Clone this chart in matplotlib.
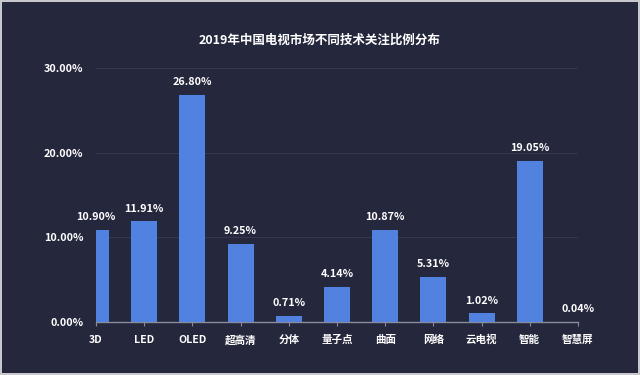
import matplotlib.pyplot as plt

plt.rcParams['font.family'] = ['Noto Sans CJK SC', 'DejaVu Sans']

categories = ['3D', 'LED', 'OLED', '超高清', '分体', '量子点', '曲面', '网络', '云电视', '智能', '智慧屏']
shares = [10.90, 11.91, 26.80, 9.25, 0.71, 4.14, 10.87, 5.31, 1.02, 19.05, 0.04]
yticks = [0, 10, 20, 30]

bg = '#25273d'
bar_color = '#5282e0'

fig = plt.figure(figsize=(6.4, 3.75), dpi=100, facecolor=bg,
                 edgecolor='#c8c8cc', linewidth=1.5)
ax = fig.add_axes([0.15, 0.141, 0.753, 0.678])
ax.set_facecolor(bg)

x = list(range(len(categories)))
ax.bar(x, shares, width=0.54, color=bar_color, zorder=3)

for xi, v in zip(x, shares):
    ax.text(xi, v + 0.9, f'{v:.2f}%', ha='center', va='bottom',
            color='white', fontsize=7.8, fontweight='bold')

ax.set_xlim(0, len(categories) - 1)
ax.set_ylim(0, 30)
ax.set_xticks(x)
ax.set_xticklabels(categories, color='white', fontsize=7.6, fontweight='bold')
ax.set_yticks(yticks)
ax.set_yticklabels([f'{t:.2f}%' for t in yticks], color='white',
                   fontsize=7.8, fontweight='bold')

ax.tick_params(axis='y', length=0, pad=9)
ax.tick_params(axis='x', length=3, color='#8a8d99', pad=6)
ax.grid(axis='y', color='#34374f', linewidth=0.8, zorder=0)

for side in ['top', 'right', 'left']:
    ax.spines[side].set_visible(False)
ax.spines['bottom'].set_color('#8a8d99')
ax.spines['bottom'].set_linewidth(1)

fig.text(0.5, 0.893, '2019年中国电视市场不同技术关注比例分布', ha='center', va='center',
         color='white', fontsize=9, fontweight='bold')

fig.savefig('out.png', dpi=100, facecolor=bg, edgecolor='#c8c8cc')
